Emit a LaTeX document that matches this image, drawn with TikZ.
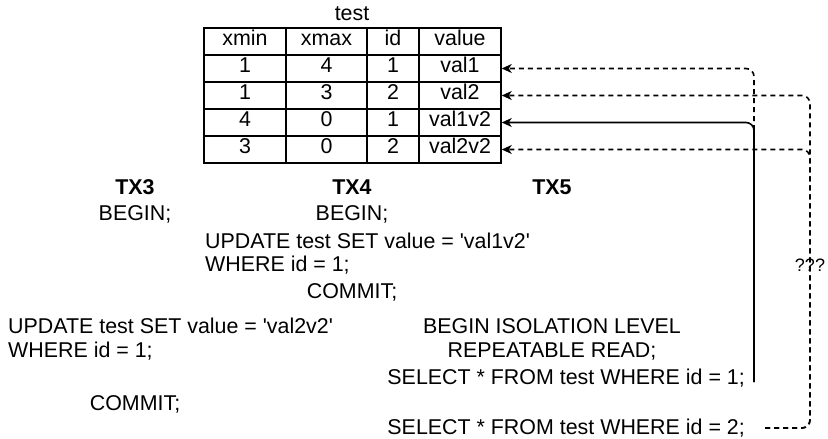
\documentclass[tikz,border=0pt]{standalone}
\usepackage{fontspec}
\setmainfont{Liberation Sans}[Ligatures=TeXOff]
\usetikzlibrary{arrows.meta}
\begin{document}
\begin{tikzpicture}[x=1pt,y=-1pt,
  every node/.style={font=\fontsize{21.4pt}{25pt}\selectfont, inner sep=0pt, text height=0.72em, text depth=0pt},
  cell/.style={draw, line width=1.5pt, minimum height=27pt},
  hdr/.style={font=\fontsize{21.4pt}{25pt}\selectfont\bfseries},
  link/.style={line width=1.6pt, rounded corners=8pt, -{Stealth[length=10pt,width=9pt,inset=3pt]}},
  dlink/.style={link, dash pattern=on 5pt off 4pt}]
\useasboundingbox (0,0) rectangle (828,439);

% table title
\node (title) at (352,17) {test};

% table: header and rows
\foreach \r/\y/\a/\b/\c/\d in {h/41.5/xmin/xmax/id/value, r1/68.5/1/4/1/val1, r2/95.5/1/3/2/val2, r3/122.5/4/0/1/val1v2, r4/149.5/3/0/2/val2v2}{
  \node[cell, minimum width=82pt] (\r a) at (245,\y) {\a};
  \node[cell, minimum width=81pt] (\r b) at (326.5,\y) {\b};
  \node[cell, minimum width=52pt] (\r c) at (393,\y) {\c};
  \node[cell, minimum width=82pt] (\r d) at (460,\y) {\d};
}

% transaction headers
\node[hdr] (tx3) at (135,191) {TX3};
\node[hdr] (tx4) at (352,191) {TX4};
\node[hdr] (tx5) at (552,191) {TX5};

% TX3 / TX4 statements
\node (b3) at (135,217) {BEGIN;};
\node (b4) at (352,217) {BEGIN;};
\node[anchor=west] (u4a) at (205,245) {UPDATE test SET value = 'val1v2'};
\node[anchor=west] (u4b) at (205,268) {WHERE id = 1;};
\node (c4) at (352,295) {COMMIT;};
\node[anchor=west] (u3a) at (8,330) {UPDATE test SET value = 'val2v2'};
\node[anchor=west] (u3b) at (8,354) {WHERE id = 1;};
\node (c3) at (135,407) {COMMIT;};

% TX5 statements
\node (b5a) at (552,330) {BEGIN ISOLATION LEVEL};
\node (b5b) at (552,354) {REPEATABLE READ;};
\node[anchor=east] (sel1) at (745,381) {SELECT * FROM test WHERE id = 1;};
\node[anchor=east] (sel2) at (745,431) {SELECT * FROM test WHERE id = 2;};

% connector end points
\coordinate (s1) at (754,382);
\coordinate (s2) at (765,428);
\coordinate (k2) at (810,95.5);
\coordinate (k4) at (810,149.5);

% reads of id = 1
\draw[dlink] (s1) |- (r1d.east);
\draw[link] (s1) |- (r3d.east);

% reads of id = 2
\draw[dlink] (s2) -| (k2) -- (r2d.east);
\draw[dlink] (s2) -| (k4) -- (r4d.east);

\node[font=\fontsize{18pt}{21pt}\selectfont] (q) at (810,268) {???};
\end{tikzpicture}
\end{document}
